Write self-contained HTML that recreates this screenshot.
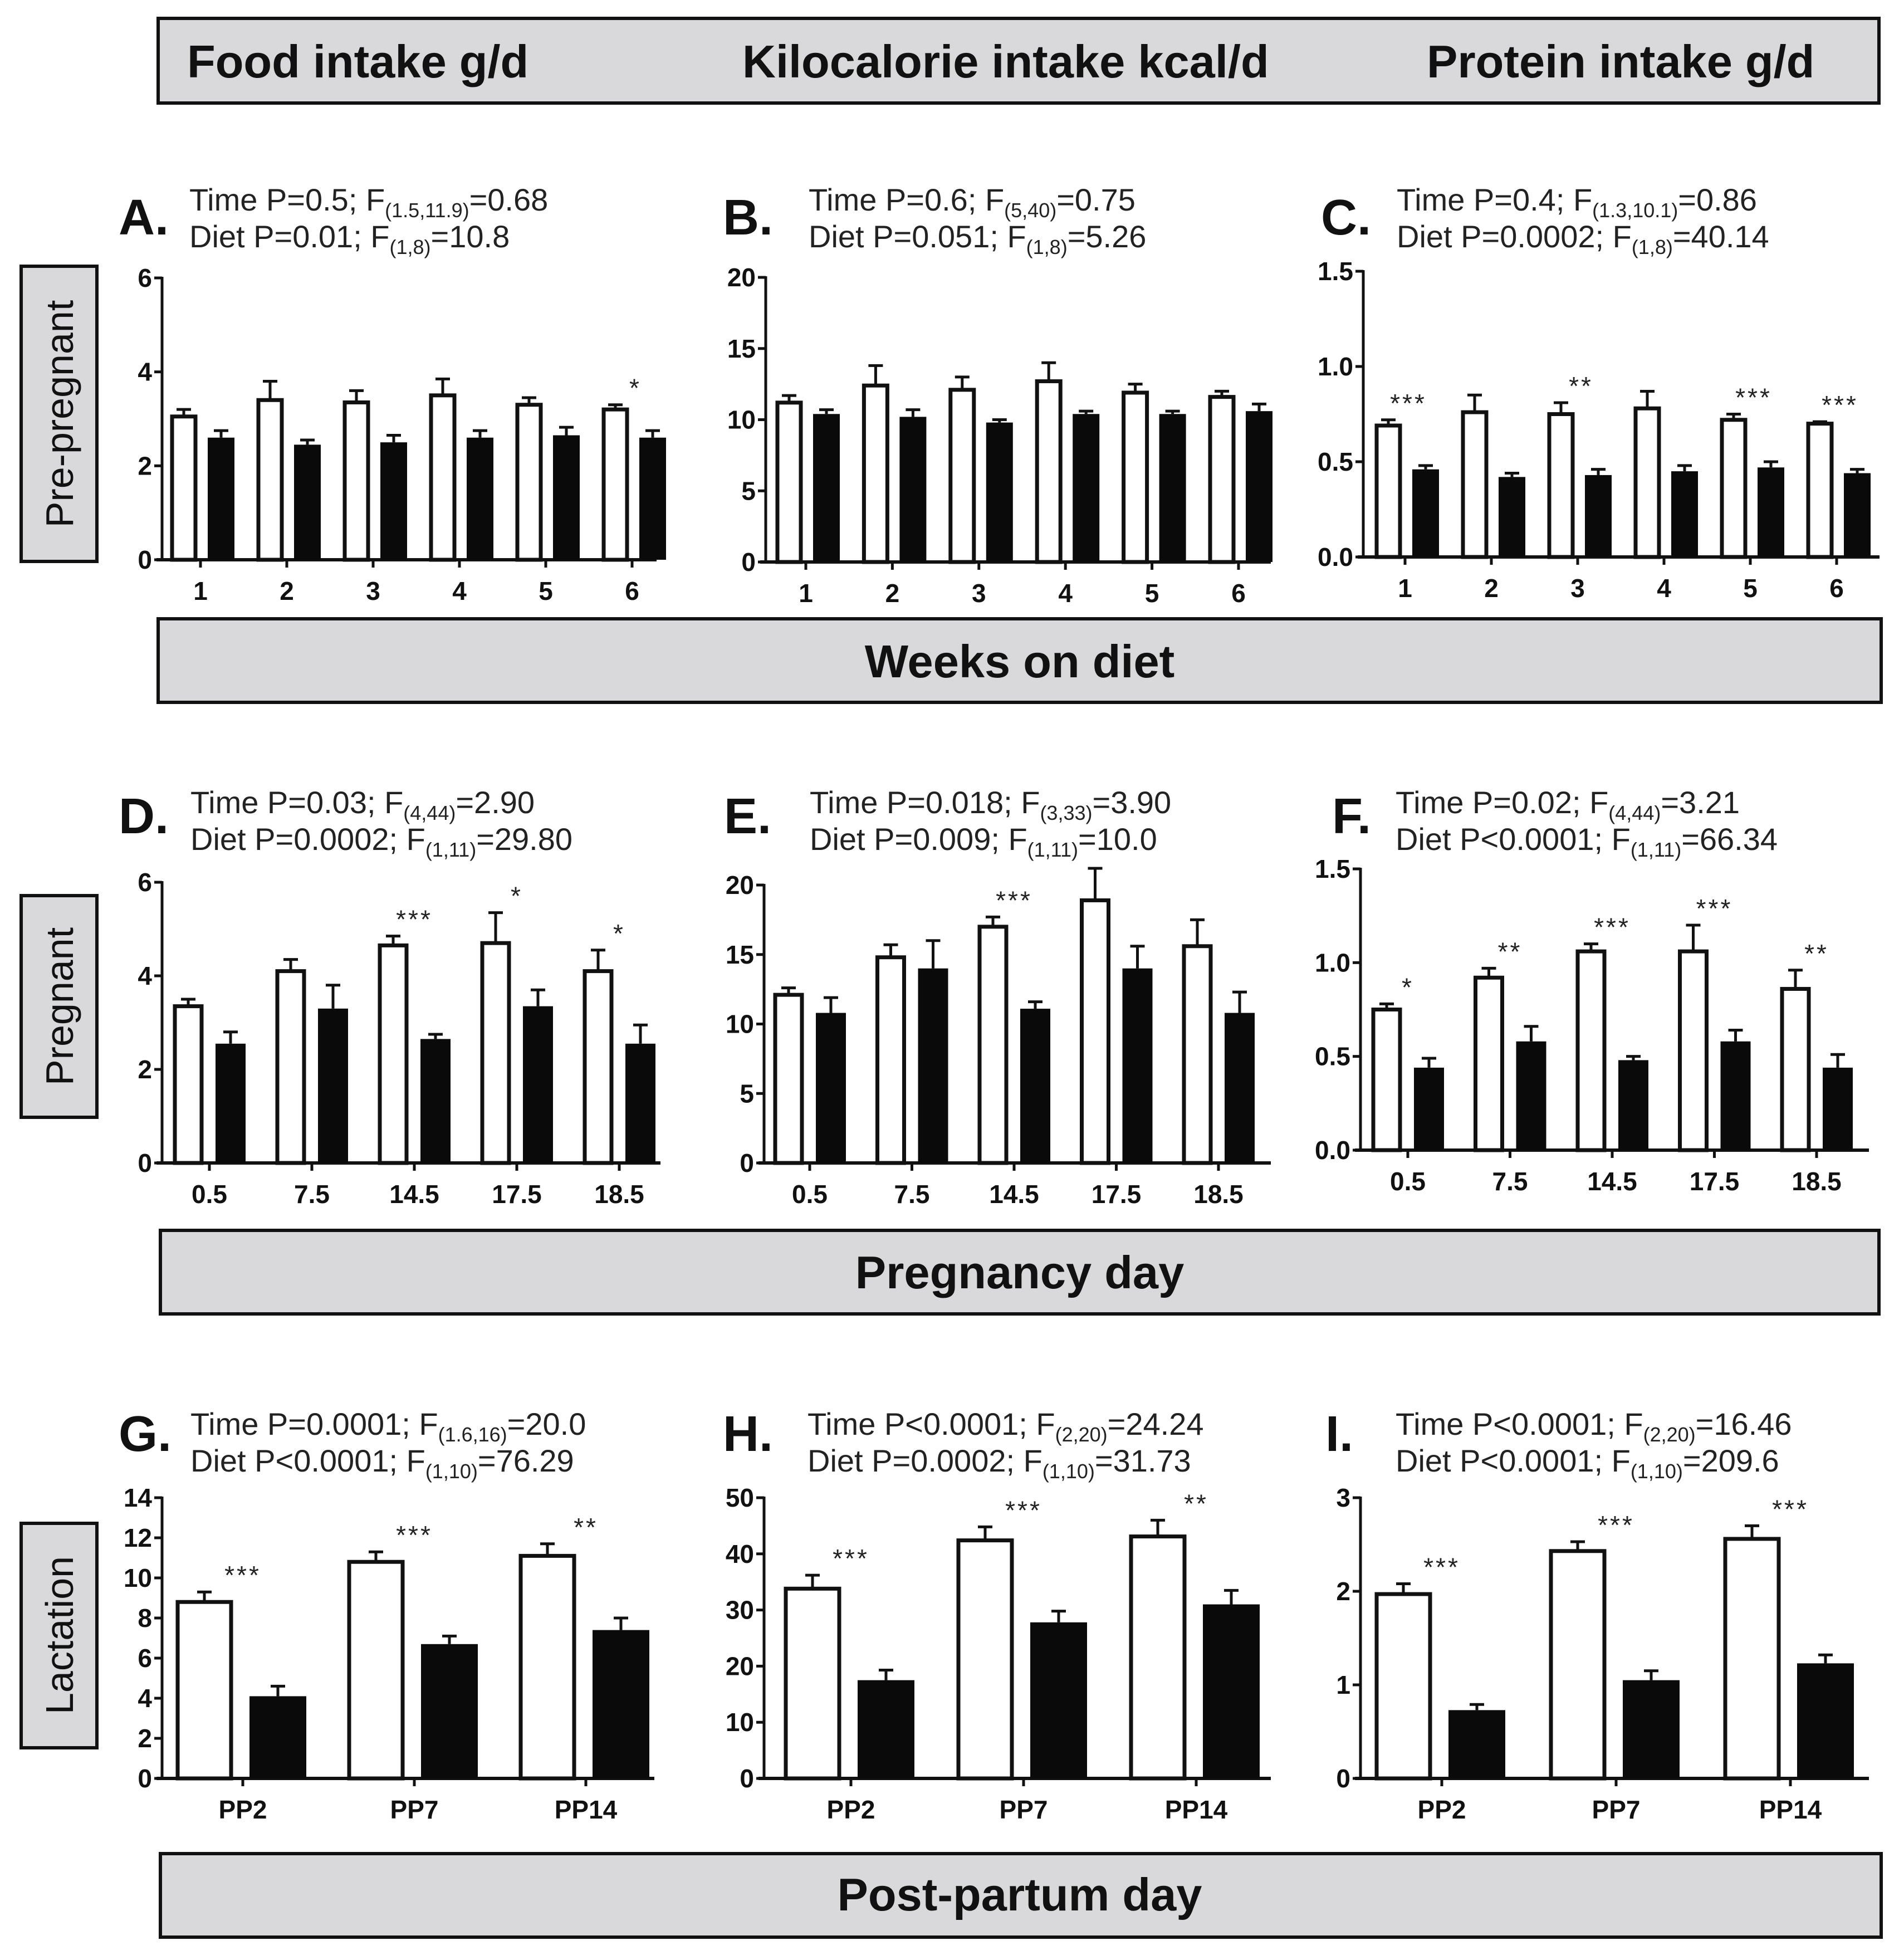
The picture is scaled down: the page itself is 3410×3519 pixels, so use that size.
<!DOCTYPE html>
<html><head><meta charset="utf-8"><style>
html,body{margin:0;padding:0;background:#fff;}
svg{display:block;font-family:"Liberation Sans",Arial,sans-serif;}
</style></head><body>
<svg id="fig" width="3410" height="3519" viewBox="0 0 3410 3519" xmlns="http://www.w3.org/2000/svg">
<g>
<rect x="284" y="33" width="3090" height="152" fill="#d9d9db" stroke="#111" stroke-width="6"/>
<text x="336" y="139" font-size="83" font-weight="bold" fill="#111">Food intake g/d</text>
<text x="1333" y="139" font-size="83" font-weight="bold" fill="#111">Kilocalorie intake kcal/d</text>
<text x="2562" y="139" font-size="83" font-weight="bold" fill="#111">Protein intake g/d</text>
</g>
<g>
<rect x="284" y="1111" width="3094" height="150" fill="#d9d9db" stroke="#111" stroke-width="6"/>
<text x="1831" y="1216" font-size="83" font-weight="bold" text-anchor="middle" fill="#111">Weeks on diet</text>
</g>
<g>
<rect x="288" y="2209" width="3086" height="150" fill="#d9d9db" stroke="#111" stroke-width="6"/>
<text x="1831" y="2313" font-size="83" font-weight="bold" text-anchor="middle" fill="#111">Pregnancy day</text>
</g>
<g>
<rect x="288" y="3328" width="3090" height="150" fill="#d9d9db" stroke="#111" stroke-width="6"/>
<text x="1831" y="3430" font-size="83" font-weight="bold" text-anchor="middle" fill="#111">Post-partum day</text>
</g>
<g>
<rect x="38" y="478" width="136" height="530" fill="#d9d9db" stroke="#111" stroke-width="6"/>
<text transform="translate(131,743) rotate(-90)" font-size="70" text-anchor="middle" fill="#111">Pre-pregnant</text>
</g>
<g>
<rect x="38" y="1608" width="136" height="398" fill="#d9d9db" stroke="#111" stroke-width="6"/>
<text transform="translate(131,1807) rotate(-90)" font-size="70" text-anchor="middle" fill="#111">Pregnant</text>
</g>
<g>
<rect x="38" y="2735" width="136" height="403" fill="#d9d9db" stroke="#111" stroke-width="6"/>
<text transform="translate(131,2936) rotate(-90)" font-size="70" text-anchor="middle" fill="#111">Lactation</text>
</g>
</svg>
<script>
// Panel A
const aCategories=["1","2","3","4","5","6"];
const aControl=[3.05,3.4,3.35,3.5,3.3,3.2];
const aControlErr=[3.2,3.8,3.6,3.85,3.45,3.3];
const aLowProtein=[2.6,2.45,2.5,2.6,2.65,2.6];
const aLowProteinErr=[2.75,2.55,2.65,2.75,2.82,2.75];
const aSig=["","","","","","*"];
const aTicks=["0","2","4","6"];
// Panel B
const bCategories=["1","2","3","4","5","6"];
const bControl=[11.2,12.4,12.1,12.7,11.9,11.6];
const bControlErr=[11.7,13.8,13.0,14.0,12.5,12.0];
const bLowProtein=[10.4,10.2,9.8,10.4,10.4,10.6];
const bLowProteinErr=[10.7,10.7,10.0,10.6,10.6,11.1];
const bSig=["","","","","",""];
const bTicks=["0","5","10","15","20"];
// Panel C
const cCategories=["1","2","3","4","5","6"];
const cControl=[0.69,0.76,0.75,0.78,0.72,0.70];
const cControlErr=[0.72,0.85,0.81,0.87,0.75,0.71];
const cLowProtein=[0.46,0.42,0.43,0.45,0.47,0.44];
const cLowProteinErr=[0.48,0.44,0.46,0.48,0.50,0.46];
const cSig=["***","","**","","***","***"];
const cTicks=["0.0","0.5","1.0","1.5"];
// Panel D
const dCategories=["0.5","7.5","14.5","17.5","18.5"];
const dControl=[3.35,4.1,4.65,4.7,4.1];
const dControlErr=[3.5,4.35,4.85,5.35,4.55];
const dLowProtein=[2.55,3.3,2.65,3.35,2.55];
const dLowProteinErr=[2.8,3.8,2.75,3.7,2.95];
const dSig=["","","***","*","*"];
const dTicks=["0","2","4","6"];
// Panel E
const eCategories=["0.5","7.5","14.5","17.5","18.5"];
const eControl=[12.1,14.8,17.0,18.9,15.6];
const eControlErr=[12.6,15.7,17.7,21.2,17.5];
const eLowProtein=[10.8,14.0,11.1,14.0,10.8];
const eLowProteinErr=[11.9,16.0,11.6,15.6,12.3];
const eSig=["","","***","",""];
const eTicks=["0","5","10","15","20"];
// Panel F
const fCategories=["0.5","7.5","14.5","17.5","18.5"];
const fControl=[0.75,0.92,1.06,1.06,0.86];
const fControlErr=[0.78,0.97,1.10,1.20,0.96];
const fLowProtein=[0.44,0.58,0.48,0.58,0.44];
const fLowProteinErr=[0.49,0.66,0.50,0.64,0.51];
const fSig=["*","**","***","***","**"];
const fTicks=["0.0","0.5","1.0","1.5"];
// Panel G
const gCategories=["PP2","PP7","PP14"];
const gControl=[8.8,10.8,11.1];
const gControlErr=[9.3,11.3,11.7];
const gLowProtein=[4.1,6.7,7.4];
const gLowProteinErr=[4.6,7.1,8.0];
const gSig=["***","***","**"];
const gTicks=["0","2","4","6","8","10","12","14"];
// Panel H
const hCategories=["PP2","PP7","PP14"];
const hControl=[33.8,42.4,43.1];
const hControlErr=[36.2,44.8,46.0];
const hLowProtein=[17.5,27.8,31.0];
const hLowProteinErr=[19.3,29.8,33.5];
const hSig=["***","***","**"];
const hTicks=["0","10","20","30","40","50"];
// Panel I
const iCategories=["PP2","PP7","PP14"];
const iControl=[1.97,2.43,2.56];
const iControlErr=[2.08,2.53,2.70];
const iLowProtein=[0.73,1.05,1.23];
const iLowProteinErr=[0.79,1.15,1.32];
const iSig=["***","***","***"];
const iTicks=["0","1","2","3"];

const NS="http://www.w3.org/2000/svg";
const svg=document.getElementById('fig');
function mk(tag,attrs,parent){const e=document.createElementNS(NS,tag);for(const k in attrs)e.setAttribute(k,attrs[k]);parent.appendChild(e);return e;}

function statText(g,x,y,pre,sub,post){
  const t=mk('text',{x:x,y:y,'font-size':56,fill:'#222'},g);
  
  
  const a=mk('tspan',{},t);a.textContent=pre;
  const b=mk('tspan',{'font-size':36,dy:12},t);b.textContent=sub;
  const c=mk('tspan',{dy:-12},t);c.textContent=post;
}

function panel(p){
  const g=mk('g',{},svg);
  
  
  const lab=mk('text',{x:p.labX,y:p.labY,'font-size':90,'font-weight':'bold',fill:'#111'},g);
  
  
  lab.textContent=p.id.toUpperCase()+'.';
  statText(g,p.txtX,p.txtY1,p.s1[0],p.s1[1],p.s1[2]);
  statText(g,p.txtX,p.txtY2,p.s2[0],p.s2[1],p.s2[2]);
  const maxV=parseFloat(p.ticks[p.ticks.length-1]);
  const yS=v=>p.y0-(v/maxV)*(p.y0-p.yTop);
  const xS=i=>p.t0+i*p.step;
  const ya=mk('line',{x1:p.ax,y1:p.yTop-2,x2:p.ax,y2:p.y0,stroke:'#111','stroke-width':5},g);
  
  
  p.ticks.forEach(t=>{
    const v=parseFloat(t),y=yS(v);
    mk('line',{x1:p.ax-14,y1:y,x2:p.ax,y2:y,stroke:'#111','stroke-width':5},g);
    const tl=mk('text',{x:p.ax-18,y:y+16,'font-size':46,'font-weight':'bold','text-anchor':'end',fill:'#111'},g);
    
    
    tl.textContent=t;
  });
  const xa=mk('line',{x1:p.ax-10,y1:p.y0,x2:p.xEnd,y2:p.y0,stroke:'#111','stroke-width':6},g);
  
  
  p.cats.forEach((c,i)=>{
    const x=xS(i);
    mk('line',{x1:x,y1:p.y0,x2:x,y2:p.y0+14,stroke:'#111','stroke-width':5},g);
    const tl=mk('text',{x:x,y:p.y0+72,'font-size':46,'font-weight':'bold','text-anchor':'middle',fill:'#111'},g);
    
    
    tl.textContent=c;
    const wy=yS(p.ctrl[i]),ey=yS(p.ctrlErr[i]);
    const wx=x-p.wOff-p.bw;
    mk('line',{x1:wx+p.bw/2,y1:wy,x2:wx+p.bw/2,y2:ey,stroke:'#111','stroke-width':5},g);
    mk('line',{x1:wx+p.bw/2-13,y1:ey,x2:wx+p.bw/2+13,y2:ey,stroke:'#111','stroke-width':5},g);
    const wb=mk('rect',{x:wx+3,y:wy,width:p.bw-6,height:p.y0-wy,fill:'#fff',stroke:'#111','stroke-width':7},g);
    
    
    const by=yS(p.lp[i]),bey=yS(p.lpErr[i]);
    const bx=x+p.bOff;
    mk('line',{x1:bx+p.bw/2,y1:by,x2:bx+p.bw/2,y2:bey,stroke:'#111','stroke-width':5},g);
    mk('line',{x1:bx+p.bw/2-13,y1:bey,x2:bx+p.bw/2+13,y2:bey,stroke:'#111','stroke-width':5},g);
    const bb=mk('rect',{x:bx,y:by,width:p.bw,height:p.y0-by,fill:'#0a0a0a'},g);
    
    
    if(p.sig[i]){
      const top=Math.min(ey,bey);
      const st=mk('text',{x:x+p.sigDx,y:top-14,'font-size':46,'text-anchor':'middle',fill:'#222','letter-spacing':4},g);
      
      
      st.textContent=p.sig[i];
    }
  });
}

const r1={labY:421,txtY1:378,txtY2:444};
const r2={labY:1496,txtY1:1460,txtY2:1526};
const r3={labY:2605,txtY1:2576,txtY2:2642};
const B1={bw:48,wOff:6,bOff:13,sigDx:6};
const B2={bw:54,wOff:11,bOff:11,sigDx:0};
const B3={bw:102,wOff:18,bOff:12,sigDx:0};

panel(Object.assign({id:'a',labX:213,txtX:340,ax:291,y0:1005,yTop:499,t0:360,step:155,xEnd:1179,cats:aCategories,ctrl:aControl,ctrlErr:aControlErr,lp:aLowProtein,lpErr:aLowProteinErr,sig:aSig,ticks:aTicks,
 s1:["Time  P=0.5; F","(1.5,11.9)","=0.68"],s2:["Diet P=0.01; F","(1,8)","=10.8"]},r1,B1));
panel(Object.assign({id:'b',labX:1298,txtX:1452,ax:1375,y0:1009,yTop:498,t0:1447,step:155.4,xEnd:2282,cats:bCategories,ctrl:bControl,ctrlErr:bControlErr,lp:bLowProtein,lpErr:bLowProteinErr,sig:bSig,ticks:bTicks,
 s1:["Time  P=0.6; F","(5,40)","=0.75"],s2:["Diet P=0.051; F","(1,8)","=5.26"]},r1,B1));
panel(Object.assign({id:'c',labX:2372,txtX:2508,ax:2448,y0:1000,yTop:487,t0:2523,step:155,xEnd:3375,cats:cCategories,ctrl:cControl,ctrlErr:cControlErr,lp:cLowProtein,lpErr:cLowProteinErr,sig:cSig,ticks:cTicks,
 s1:["Time  P=0.4; F","(1.3,10.1)","=0.86"],s2:["Diet P=0.0002; F","(1,8)","=40.14"]},r1,B1));
panel(Object.assign({id:'d',labX:213,txtX:342,ax:291,y0:2088,yTop:1584,t0:376,step:184,xEnd:1186,cats:dCategories,ctrl:dControl,ctrlErr:dControlErr,lp:dLowProtein,lpErr:dLowProteinErr,sig:dSig,ticks:dTicks,
 s1:["Time  P=0.03; F","(4,44)","=2.90"],s2:["Diet P=0.0002; F","(1,11)","=29.80"]},r2,B2));
panel(Object.assign({id:'e',labX:1300,txtX:1454,ax:1372,y0:2088,yTop:1589,t0:1454,step:183.5,xEnd:2282,cats:eCategories,ctrl:eControl,ctrlErr:eControlErr,lp:eLowProtein,lpErr:eLowProteinErr,sig:eSig,ticks:eTicks,
 s1:["Time  P=0.018; F","(3,33)","=3.90"],s2:["Diet P=0.009; F","(1,11)","=10.0"]},r2,B2));
panel(Object.assign({id:'f',labX:2392,txtX:2506,ax:2443,y0:2065,yTop:1560,t0:2528,step:183.5,xEnd:3356,cats:fCategories,ctrl:fControl,ctrlErr:fControlErr,lp:fLowProtein,lpErr:fLowProteinErr,sig:fSig,ticks:fTicks,
 s1:["Time  P=0.02; F","(4,44)","=3.21"],s2:["Diet P<0.0001; F","(1,11)","=66.34"]},r2,B2));
panel(Object.assign({id:'g',labX:213,txtX:342,ax:291,y0:3193,yTop:2689,t0:436,step:308,xEnd:1175,cats:gCategories,ctrl:gControl,ctrlErr:gControlErr,lp:gLowProtein,lpErr:gLowProteinErr,sig:gSig,ticks:gTicks,
 s1:["Time  P=0.0001; F","(1.6,16)","=20.0"],s2:["Diet P<0.0001; F","(1,10)","=76.29"]},r3,B3));
panel(Object.assign({id:'h',labX:1298,txtX:1450,ax:1372,y0:3193,yTop:2689,t0:1528,step:310,xEnd:2282,cats:hCategories,ctrl:hControl,ctrlErr:hControlErr,lp:hLowProtein,lpErr:hLowProteinErr,sig:hSig,ticks:hTicks,
 s1:["Time  P<0.0001; F","(2,20)","=24.24"],s2:["Diet P=0.0002; F","(1,10)","=31.73"]},r3,B3));
panel(Object.assign({id:'i',labX:2380,txtX:2506,ax:2443,y0:3193,yTop:2689,t0:2589,step:313,xEnd:3356,cats:iCategories,ctrl:iControl,ctrlErr:iControlErr,lp:iLowProtein,lpErr:iLowProteinErr,sig:iSig,ticks:iTicks,
 s1:["Time  P<0.0001; F","(2,20)","=16.46"],s2:["Diet P<0.0001; F","(1,10)","=209.6"]},r3,B3));
</script>
</body></html>
